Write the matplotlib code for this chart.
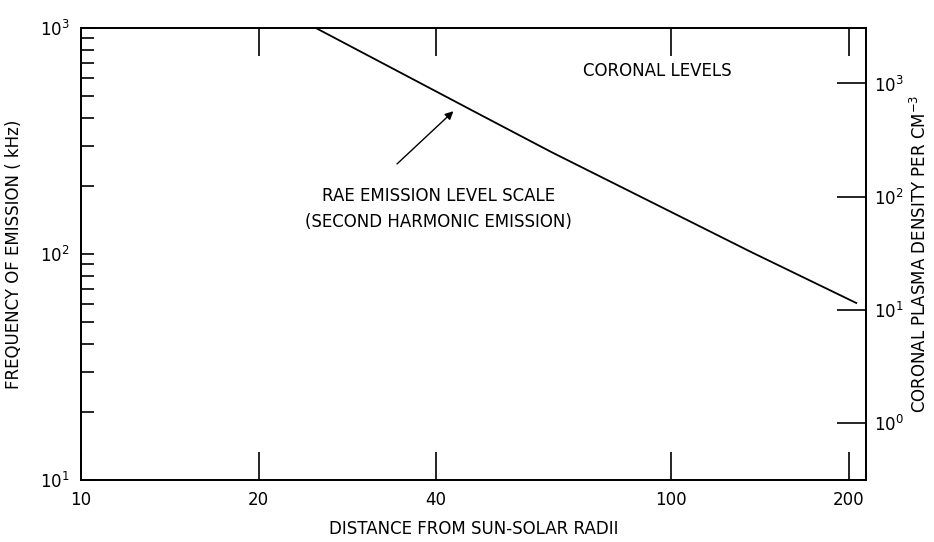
import matplotlib
matplotlib.use("Agg")
import matplotlib.pyplot as plt
from matplotlib.ticker import FixedLocator, NullFormatter, NullLocator

# Data
distance_rsun = [25, 47.6, 62.6, 136.7, 206]
frequency_khz = [1000, 412, 283, 102, 60.7]

x_ticks = [10, 20, 40, 100, 200]
x_tick_labels = ["10", "20", "40", "100", "200"]
y_ticks = [10, 100, 1000]
y_tick_labels = [r"$10^1$", r"$10^2$", r"$10^3$"]
y_minor = [20, 30, 40, 50, 60, 70, 80, 90, 200, 300, 400, 500, 600, 700, 800, 900]
dens_ticks = [1, 10, 100, 1000]
dens_tick_labels = [r"$10^0$", r"$10^1$", r"$10^2$", r"$10^3$"]
x_limits = [10, 214]
y_limits = [10, 1000]
dens_limits = [0.31, 3100]

plt.rcParams["font.family"] = "DejaVu Sans"
plt.rcParams["mathtext.fontset"] = "dejavusans"

fig = plt.figure(figsize=(9.34, 5.42), dpi=100)
ax = fig.add_axes([0.0867, 0.1144, 0.8405, 0.834])
lw = 1.3
for s in ax.spines.values():
    s.set_linewidth(lw)

ax.plot(distance_rsun, frequency_khz, color="black", lw=1.3)
ax.set_xscale("log")
ax.set_yscale("log")
ax.set_xlim(*x_limits)
ax.set_ylim(*y_limits)

ax.xaxis.set_major_locator(FixedLocator(x_ticks))
ax.set_xticklabels(x_tick_labels)
ax.xaxis.set_minor_locator(NullLocator())
ax.tick_params(axis="x", which="major", direction="in", length=20, width=1.2,
               top=True, labelsize=12, pad=8)

ax.yaxis.set_major_locator(FixedLocator(y_ticks))
ax.set_yticklabels(y_tick_labels)
ax.yaxis.set_minor_locator(FixedLocator(y_minor))
ax.yaxis.set_minor_formatter(NullFormatter())
ax.tick_params(axis="y", which="both", direction="in", length=9, width=1.2,
               right=False, labelsize=12, pad=8)

ax.set_xlabel("DISTANCE FROM SUN-SOLAR RADII", fontsize=12, labelpad=8)
ax.set_ylabel("FREQUENCY OF EMISSION ( kHz)", fontsize=12, labelpad=12)

ax2 = ax.twinx()
ax2.set_yscale("log")
ax2.set_ylim(*dens_limits)
ax2.yaxis.set_major_locator(FixedLocator(dens_ticks))
ax2.set_yticklabels(dens_tick_labels)
ax2.yaxis.set_minor_locator(NullLocator())
ax2.tick_params(axis="y", which="major", direction="in", length=21, width=1.2,
                labelsize=12, pad=6)
ax2.set_ylabel(r"CORONAL PLASMA DENSITY PER CM$^{-3}$", fontsize=12, labelpad=4)
for s in ax2.spines.values():
    s.set_linewidth(lw)

ax.text(0.64, 0.905, "CORONAL LEVELS", transform=ax.transAxes, fontsize=12,
        ha="left", va="center")
ax.text(0.455, 0.60, "RAE EMISSION LEVEL SCALE\n(SECOND HARMONIC EMISSION)",
        transform=ax.transAxes, fontsize=12, ha="center", va="center",
        linespacing=1.6)
ax.annotate("", xy=(0.477, 0.82), xytext=(0.40, 0.695), xycoords="axes fraction",
            arrowprops=dict(arrowstyle="-|>", color="black", lw=1.0,
                            mutation_scale=12))

fig.savefig("out.png", dpi=100)
